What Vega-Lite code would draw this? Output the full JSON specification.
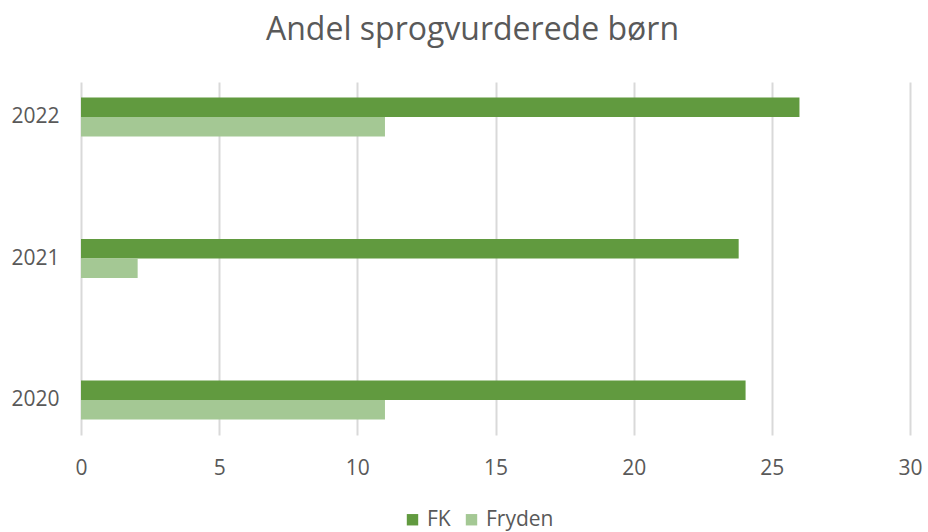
{
  "$schema": "https://vega.github.io/schema/vega-lite/v6.json",
  "autosize": "none",
  "width": 829,
  "height": 353,
  "padding": {"left": 81, "top": 82, "right": 18, "bottom": 97},
  "background": "white",
  "title": {
    "text": "Andel sprogvurderede børn",
    "fontSize": 32,
    "font": "Open Sans",
    "fontWeight": "normal",
    "color": "#595959",
    "anchor": "middle",
    "dx": -23,
    "offset": 35
  },
  "data": {
    "values": [
      {"year": "2022", "series": "FK", "value": 26},
      {"year": "2022", "series": "Fryden", "value": 11},
      {"year": "2021", "series": "FK", "value": 23.8},
      {"year": "2021", "series": "Fryden", "value": 2.05},
      {"year": "2020", "series": "FK", "value": 24.05},
      {"year": "2020", "series": "Fryden", "value": 11}
    ]
  },
  "mark": {"type": "bar"},
  "encoding": {
    "y": {
      "field": "year",
      "type": "nominal",
      "sort": "descending",
      "title": null,
      "scale": {"paddingInner": 0.7244, "paddingOuter": 0.11},
      "axis": {
        "domain": false,
        "ticks": false,
        "grid": false,
        "labelFontSize": 21,
        "labelFont": "Open Sans",
        "labelColor": "#595959",
        "labelPadding": 22
      }
    },
    "yOffset": {
      "field": "series",
      "type": "nominal",
      "sort": ["FK", "Fryden"],
      "scale": {"paddingInner": 0, "paddingOuter": 0}
    },
    "x": {
      "field": "value",
      "type": "quantitative",
      "title": null,
      "scale": {"domain": [0, 30], "nice": false},
      "axis": {
        "values": [0, 5, 10, 15, 20, 25, 30],
        "domain": false,
        "ticks": false,
        "grid": true,
        "gridColor": "#D9D9D9",
        "gridWidth": 2,
        "labelFlush": false,
        "labelFontSize": 21,
        "labelFont": "Open Sans",
        "labelColor": "#595959",
        "labelPadding": 22
      }
    },
    "color": {
      "field": "series",
      "type": "nominal",
      "scale": {"domain": ["FK", "Fryden"], "range": ["#619A3F", "#A4C894"]},
      "legend": {
        "title": null,
        "orient": "none",
        "direction": "horizontal",
        "legendX": 321,
        "legendY": 427,
        "symbolType": "square",
        "symbolSize": 130,
        "symbolStrokeWidth": 0,
        "labelFontSize": 21,
        "labelFont": "Open Sans",
        "labelColor": "#595959",
        "columnPadding": 10,
        "labelOffset": 4
      }
    }
  },
  "config": {"view": {"stroke": null}}
}
